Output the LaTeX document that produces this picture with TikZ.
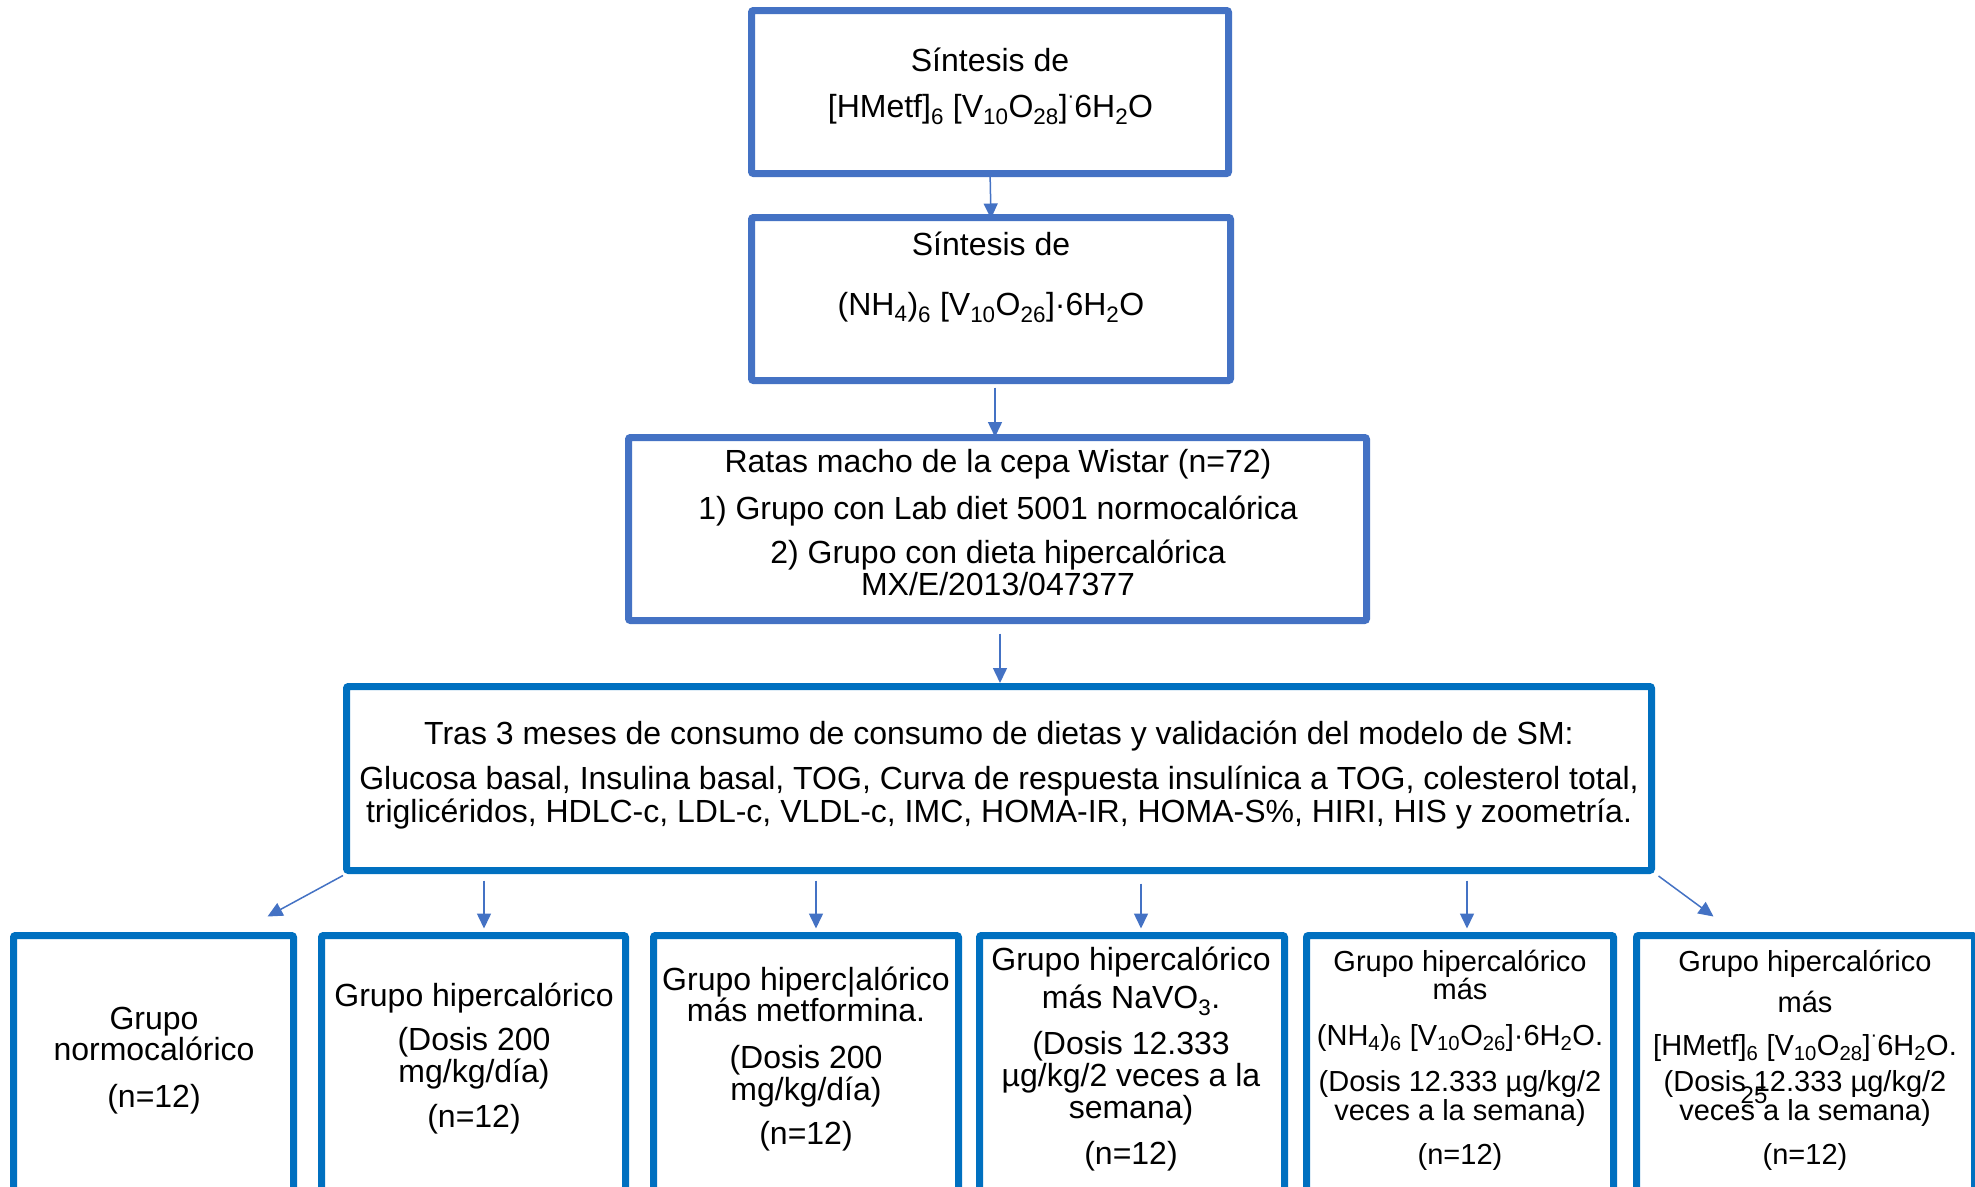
\documentclass[tikz,border=0pt]{standalone}
\usepackage{fontspec}
\setmainfont{Liberation Sans}
\usetikzlibrary{arrows.meta,calc}
\definecolor{lblue}{HTML}{4472C4}
\definecolor{dblue}{HTML}{0070C0}
\newcommand{\sdot}{\raisebox{0.45em}{\fontsize{20}{20}\selectfont ·}}
\begin{document}
\begin{tikzpicture}[x=1pt,y=-1pt,
  topbox/.style={draw=lblue,line width=7pt,rounded corners=2pt,inner sep=0pt,fill=white},
  botbox/.style={draw=dblue,line width=7pt,rounded corners=2pt,inner sep=0pt,fill=white},
  txt/.style={anchor=base,inner sep=0pt,font=\fontsize{32}{38}\selectfont},
  stxt/.style={anchor=base,inner sep=0pt,font=\fontsize{29}{34}\selectfont},
  arr/.style={draw=lblue,line width=1.5pt,-{Triangle[length=15pt,width=14pt]}}]
\useasboundingbox[fill=white] (0,0) rectangle (1975,1186);
% boxes
\node[topbox,minimum width=477pt,minimum height=163pt] (b1) at (990,92) {};
\node[topbox,minimum width=479pt,minimum height=163pt] (b2) at (991,299) {};
\node[topbox,minimum width=738pt,minimum height=183pt] (b3) at (997.5,529) {};
\node[botbox,minimum width=1305pt,minimum height=184pt] (b4) at (999,778.5) {};
\begin{scope}
\clip (0,0) rectangle (1975,1186);
\node[botbox,minimum width=280pt,minimum height=265pt] (bA) at (153.5,1068) {};
\node[botbox,minimum width=304pt,minimum height=265pt] (bB) at (473.5,1068) {};
\node[botbox,minimum width=305pt,minimum height=265pt] (bC) at (806,1068) {};
\node[botbox,minimum width=305pt,minimum height=265pt] (bD) at (1132,1068) {};
\node[botbox,minimum width=307pt,minimum height=265pt] (bE) at (1460,1068) {};
\node[botbox,minimum width=338pt,minimum height=265pt] (bF) at (1805.5,1068) {};
\end{scope}
% texts box 1
\node[txt] (t1a) at (990,71) {Síntesis de};
\node[txt] (t1b) at (990.5,117) {[HMetf]\textsubscript{6} [V\textsubscript{10}O\textsubscript{28}]\sdot6H\textsubscript{2}O};
% box 2
\node[txt] (t2a) at (991,255) {Síntesis de};
\node[txt] (t2b) at (991,315) {(NH\textsubscript{4})\textsubscript{6} [V\textsubscript{10}O\textsubscript{26}]·6H\textsubscript{2}O};
% box 3
\node[txt] (t3a) at (998,472) {Ratas macho de la cepa Wistar (n=72)};
\node[txt] (t3b) at (998,519) {1) Grupo con Lab diet 5001 normocalórica};
\node[txt] (t3c) at (998,563) {2) Grupo con dieta hipercalórica};
\node[txt] (t3d) at (998,595) {MX/E/2013/047377};
% box 4
\node[txt] (t4a) at (999,744) {Tras 3 meses de consumo de consumo de dietas y validación del modelo de SM:};
\node[txt] (t4b) at (999,789) {Glucosa basal, Insulina basal, TOG, Curva de respuesta insulínica a TOG, colesterol total,};
\node[txt] (t4c) at (999,822) {triglicéridos, HDLC-c, LDL-c, VLDL-c, IMC, HOMA-IR, HOMA-S\%, HIRI, HIS y zoometría.};
% box A
\node[txt] (tAa) at (154,1029) {Grupo};
\node[txt] (tAb) at (154,1060) {normocalórico};
\node[txt] (tAc) at (154,1107) {(n=12)};
% box B
\node[txt] (tBa) at (474,1006) {Grupo hipercalórico};
\node[txt] (tBb) at (474,1050) {(Dosis 200};
\node[txt] (tBc) at (474,1082) {mg/kg/día)};
\node[txt] (tBd) at (474,1127) {(n=12)};
% box C
\node[txt] (tCa) at (806,990) {Grupo hiperc|alórico};
\node[txt] (tCb) at (806,1021) {más metformina.};
\node[txt] (tCc) at (806,1068) {(Dosis 200};
\node[txt] (tCd) at (806,1100) {mg/kg/día)};
\node[txt] (tCe) at (806,1144) {(n=12)};
% box D
\node[txt] (tDa) at (1131,970) {Grupo hipercalórico};
\node[txt] (tDb) at (1131,1008) {más NaVO\textsubscript{3}.};
\node[txt] (tDc) at (1131,1054) {(Dosis 12.333};
\node[txt] (tDd) at (1131,1086) {µg/kg/2 veces a la};
\node[txt] (tDe) at (1131,1118) {semana)};
\node[txt] (tDf) at (1131,1164) {(n=12)};
% box E
\node[stxt] (tEa) at (1460,971) {Grupo hipercalórico};
\node[stxt] (tEb) at (1460,999) {más};
\node[stxt] (tEc) at (1460,1045) {(NH\textsubscript{4})\textsubscript{6} [V\textsubscript{10}O\textsubscript{26}]·6H\textsubscript{2}O.};
\node[stxt] (tEd) at (1460,1091) {(Dosis 12.333 µg/kg/2};
\node[stxt] (tEe) at (1460,1120) {veces a la semana)};
\node[stxt] (tEf) at (1460,1164) {(n=12)};
% box F
\node[stxt] (tFa) at (1805,971) {Grupo hipercalórico};
\node[stxt] (tFb) at (1805,1012) {más};
\node[stxt] (tFc) at (1805,1055) {[HMetf]\textsubscript{6} [V\textsubscript{10}O\textsubscript{28}]\sdot6H\textsubscript{2}O.};
\node[stxt] (tFd) at (1805,1091) {(Dosis 12.333 µg/kg/2};
\node[stxt] (tFe) at (1805,1120) {veces a la semana)};
\node[stxt] (tFf) at (1805,1164) {(n=12)};
\node[anchor=base,inner sep=0pt,font=\fontsize{24}{28}\selectfont] (pg) at (1754,1103) {25};
% arrows
\draw[arr] ($(b1.south)+(0,-6.5)$) -- ($(b2.north)+(0,4.5)$);
\draw[arr] ($(b2.south)+(4,3.5)$) -- ($(b3.north)+(-2.5,3)$);
\draw[arr] ($(b3.south)+(2.5,9.5)$) -- ($(b4.north)+(1,0)$);
\coordinate (tipA) at ($(bA.north east)+(-29.5,-15.5)$);
\coordinate (tipF) at ($(bF.north west)+(80.5,-15.5)$);
\draw[arr] ($(b4.south west)+(0,1.5)$) -- (tipA);
\draw[arr] ($(b4.south -| bB.north)+(10.5,6.5)$) -- ($(bB.north)+(10.5,-3.5)$);
\draw[arr] ($(b4.south -| bC.north)+(10,6.5)$) -- ($(bC.north)+(10,-3.5)$);
\draw[arr] ($(b4.south -| bD.north)+(9,9.5)$) -- ($(bD.north)+(9,-3.5)$);
\draw[arr] ($(b4.south -| bE.north)+(7,6.5)$) -- ($(bE.north)+(7,-3.5)$);
\draw[arr] ($(b4.south east)+(3.5,2)$) -- (tipF);
\end{tikzpicture}
\end{document}
